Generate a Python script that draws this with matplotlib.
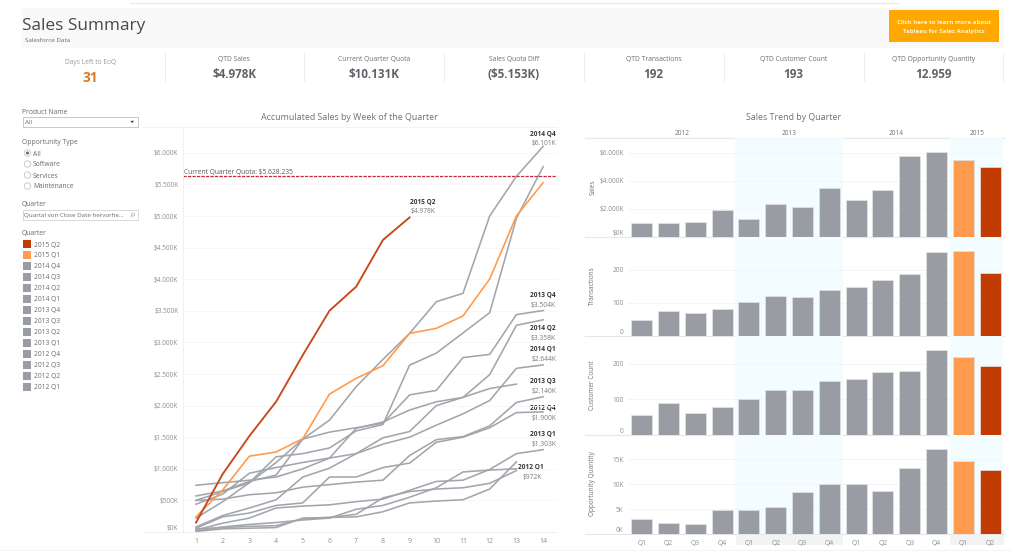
import matplotlib
matplotlib.use("Agg")
import matplotlib.pyplot as plt
from matplotlib.patches import Rectangle, Circle, Polygon

plt.rcParams['font.family'] = ['Open Sans', 'DejaVu Sans']

W, H = 1023, 551
GREY = '#999DA3'
LINE_GREY = '#A2A6AC'
ORANGE = '#FF9B4E'
DARK = '#C23B00'
TXT = '#666A70'
TICK = '#8C8F94'

weeks = list(range(1, 15))
q2012_1 = [10, 50, 60, 70, 220, 230, 280, 540, 640, 680, 700, 770, 972]
q2012_2 = [20, 80, 120, 150, 190, 220, 360, 420, 550, 700, 950, 980, 1000]
q2012_3 = [50, 70, 90, 100, 210, 230, 240, 320, 460, 490, 510, 680, 1110]
q2012_4 = [60, 240, 300, 420, 460, 870, 870, 1020, 1090, 1420, 1500, 1650, 1890, 1900]
q2013_1 = [30, 140, 220, 380, 410, 430, 480, 520, 660, 800, 820, 990, 1240, 1303]
q2013_2 = [740, 780, 820, 870, 1000, 1170, 1640, 1740, 1930, 2060, 2130, 2270, 2340]
q2013_3 = [500, 520, 590, 620, 710, 750, 790, 820, 1210, 1460, 1510, 1680, 2050, 2140]
q2013_4 = [570, 650, 800, 900, 1470, 1580, 1650, 1720, 2170, 2240, 2760, 2810, 3440, 3504]
q2014_1 = [440, 600, 930, 1020, 1100, 1170, 1240, 1390, 1500, 1690, 1870, 2080, 2590, 2644]
q2014_2 = [80, 260, 380, 510, 870, 1010, 1240, 1490, 1590, 2000, 2130, 2490, 3270, 3358]
q2014_3 = [500, 640, 780, 1190, 1240, 1330, 1600, 1700, 2640, 2830, 3150, 3470, 4963, 5780]
q2014_4 = [220, 480, 780, 1100, 1470, 1770, 2300, 2730, 3143, 3644, 3776, 5000, 5628, 6101]
q2015_1 = [240, 665, 1200, 1266, 1477, 2183, 2431, 2632, 3143, 3222, 3418, 4003, 5000, 5527]
q2015_2 = [150, 918, 1519, 2062, 2800, 3502, 3882, 4620, 4978]
quota = 5628.235

grey_lines = [q2012_1, q2012_2, q2012_3, q2012_4, q2013_1, q2013_2, q2013_3, q2013_4,
              q2014_1, q2014_2, q2014_3, q2014_4]

line_ticks = [0, 500, 1000, 1500, 2000, 2500, 3000, 3500, 4000, 4500, 5000, 5500, 6000]
line_tick_labels = ['$0K', '$500K', '$1.000K', '$1.500K', '$2.000K', '$2.500K', '$3.000K',
                    '$3.500K', '$4.000K', '$4.500K', '$5.000K', '$5.500K', '$6.000K']

quarters = ['Q1', 'Q2', 'Q3', 'Q4'] * 3 + ['Q1', 'Q2']
years = ['2012', '2013', '2014', '2015']
sales = [972, 1000, 1100, 1900, 1303, 2340, 2140, 3504, 2644, 3358, 5780, 6101, 5527, 4978]
transactions = [50, 76, 71, 82, 102, 122, 119, 140, 148, 169, 187, 254, 258, 192]
customers = [55, 88, 62, 79, 101, 125, 125, 151, 156, 176, 179, 238, 218, 193]
opportunity = [3.13, 2.27, 2.0, 4.8, 4.93, 5.47, 8.4, 10.13, 10.13, 8.73, 13.33, 17.07, 14.6, 12.959]

kpi_titles = ['QTD Sales', 'Current Quarter Quota', 'Sales Quota Diff', 'QTD Transactions',
              'QTD Customer Count', 'QTD Opportunity Quantity']
kpi_values = ['$4.978K', '$10.131K', '($5.153K)', '192', '193', '12.959']
legend_names = ['2015 Q2', '2015 Q1', '2014 Q4', '2014 Q3', '2014 Q2', '2014 Q1', '2013 Q4',
                '2013 Q3', '2013 Q2', '2013 Q1', '2012 Q4', '2012 Q3', '2012 Q2', '2012 Q1']
radio_names = ['All', 'Software', 'Services', 'Maintenance']

fig = plt.figure(figsize=(W / 100, H / 100), dpi=100, facecolor='white')


def ax_px(l, t, r, b, **kw):
    return fig.add_axes([l / W, 1 - b / H, (r - l) / W, (b - t) / H], **kw)


c = ax_px(0, 0, W, H, zorder=0)
c.set_xlim(0, W)
c.set_ylim(H, 0)
c.axis('off')


def T(x, y, s, size=5, color=TXT, ha='left', va='center_baseline', **kw):
    return c.text(x, y, s, fontsize=size, color=color, ha=ha, va=va, **kw)


def R(x0, y0, x1, y1, fc='none', ec='none', lw=0, z=1):
    c.add_patch(Rectangle((x0, y0), x1 - x0, y1 - y0, facecolor=fc, edgecolor=ec, linewidth=lw, zorder=z))


# header
c.plot([130, 898], [3, 3], color='#E8E8E8', lw=0.8)
R(22, 8, 1004, 48, fc='#F9F9F9')
R(889, 10, 999, 42, fc='#FFA800', z=2)
T(944, 22, 'Click here to learn more about', size=4.45, color='#FFF3D6', ha='center', fontweight='bold', zorder=3)
T(944, 31, 'Tableau for Sales Analytics', size=4.45, color='#FFF3D6', ha='center', fontweight='bold', zorder=3)
T(22, 24, 'Sales Summary', size=12.4, color='#4A4A4A')
T(25, 40.5, 'Salesforce Data', size=4.5, color='#666666')

# KPI row
T(91, 61, 'Days Left to EoQ', size=4.8, color='#9A9A9A', ha='center')
T(90, 77, '31', size=9.8, color='#DD7A26', ha='center', fontweight='bold')
dividers = [164.5, 304, 444, 584, 723.5, 863.5, 1003]
for x in dividers:
    c.plot([x, x], [53, 81], color='#EDEDED', lw=0.8)
for i, (k, v) in enumerate(zip(kpi_titles, kpi_values)):
    xc = (dividers[i] + dividers[i + 1]) / 2
    T(xc, 58.5, k, size=4.9, color='#6E6E6E', ha='center')
    T(xc, 73, v, size=8.4, color='#5F6368', ha='center', fontweight='bold')

# filters
T(22, 111, 'Product Name', size=4.9)
R(23, 117, 137.5, 127, fc='white', ec='#C8C8C8', lw=0.7)
T(25, 122, 'All', size=4.6)
c.add_patch(Polygon([[130.5, 120.8], [134, 120.8], [132.2, 123.2]], closed=True, fc='#444444', ec='none', zorder=2))
T(22, 142, 'Opportunity Type', size=4.9)
for i, n in enumerate(radio_names):
    y = 153 + i * 11
    c.add_patch(Circle((27.5, y), 3.2, fc='white', ec='#C4C4C4', lw=0.6, zorder=2))
    if i == 0:
        c.add_patch(Circle((27.5, y), 1.5, fc='#666666', ec='none', zorder=3))
    T(33, y, n, size=4.9)
T(22, 203.5, 'Quarter', size=4.9)
R(23, 210, 137.5, 220, fc='white', ec='#D8D8D8', lw=0.7)
T(24.5, 215, 'Quartal von Close Date hervorhe...', size=4.5)
c.add_patch(Circle((133, 214.5), 1.6, fc='none', ec='#999999', lw=0.4, zorder=2))
c.plot([131.8, 130.6], [215.8, 217.2], color='#999999', lw=0.4)
T(22, 232.5, 'Quarter', size=4.9)
for i, n in enumerate(legend_names):
    y = 244 + i * 10.98
    col = DARK if i == 0 else ORANGE if i == 1 else GREY
    R(23, y - 4, 31, y + 4, fc=col, z=2)
    T(33.5, y, n, size=4.8)

# line chart
LX0, LX1 = 183.3, 557
step = 26.7
a = ax_px(LX0, 127, LX1, 532, zorder=2)
a.patch.set_alpha(0)
a.set_xlim(1 + (LX0 - 196) / step, 1 + (LX1 - 196) / step)
a.set_ylim(0, 405 / 0.0632)
for s in ['top', 'right']:
    a.spines[s].set_visible(False)
for s in ['left', 'bottom']:
    a.spines[s].set_color('#F0F0F0')
    a.spines[s].set_linewidth(0.7)
c.plot([143, 183], [532, 532], color='#F0F0F0', lw=0.7)
c.plot([143, 557], [127, 127], color='#F3F3F3', lw=0.7)
a.set_yticks(line_ticks, line_tick_labels)
a.set_xticks(weeks, [str(w) for w in weeks])
a.tick_params(length=0, labelsize=4.7, labelcolor=TICK, pad=3.5)
a.tick_params(axis='x', pad=4.5, labelsize=5)
a.get_yticklabels()[0].set_va('bottom')
a.grid(axis='y', color='#F6F6F6', lw=0.6)
a.set_axisbelow(True)
for s in grey_lines:
    a.plot(weeks[:len(s)], s, color=LINE_GREY, lw=1.15, solid_joinstyle='round')
a.plot(weeks[:len(q2015_1)], q2015_1, color=ORANGE, lw=1.2)
a.plot(weeks[:len(q2015_2)], q2015_2, color='#C8481A', lw=1.35)
a.axhline(quota, color='#C5283D', lw=0.9, ls=(0, (2.6, 1)))
T(349, 116, 'Accumulated Sales by Week of the Quarter', size=6.4, color='#6E7277', ha='center')
T(184.5, 171.3, 'Current Quarter Quota: $5.628.235', size=4.8, color='#55585C', zorder=5)

labels = [('2015 Q2', '$4.978K', 435.7, 201), ('2014 Q4', '$6.101K', 556, 133), ('2013 Q4', '$3.504K', 556, 294),
          ('2014 Q2', '$3.358K', 556, 327.5), ('2014 Q1', '$2.644K', 556, 348.5), ('2013 Q3', '$2.140K', 556, 380),
          ('2012 Q4', '$1.900K', 556, 407.5), ('2013 Q1', '$1.303K', 556, 433.5)]
for n, v, x, y in labels:
    T(x, y, n, size=4.7, color='#333333', ha='right', fontweight='bold', zorder=5)
    T(x, y + 10, v, size=4.8, color='#77797D', ha='right', zorder=5)
T(544, 466, '2012 Q1', size=4.7, color='#333333', ha='right', fontweight='bold', zorder=5)
T(541.7, 476, '$972K', size=4.8, color='#77797D', ha='right', zorder=5)

# bar panels
BL, BR = 628.3, 1003.5
T(794, 116, 'Sales Trend by Quarter', size=6.4, color='#6E7277', ha='center')
panels = [
    (138, 237, sales, 99 / 0.014, [0, 2000, 4000, 6000], ['$0K', '$2.000K', '$4.000K', '$6.000K'], 'Sales', 187),
    (237, 336, transactions, 99 / 0.33, [0, 100, 200], ['0', '100', '200'], 'Transactions', 286),
    (336, 434.7, customers, 98.7 / 0.355, [0, 100, 200], ['0', '100', '200'], 'Customer Count', 385),
    (434.7, 534.3, opportunity, 99.6 / 5, [0, 5, 10, 15], ['0K', '5K', '10K', '15K'], 'Opportunity Quantity', 484),
]
xs = list(range(14))
cols = [GREY] * 12 + [ORANGE, DARK]
for idx, (t, b, vals, ymax, ticks, tl, name, yc) in enumerate(panels):
    p = ax_px(BL, t, BR, b, zorder=2)
    p.set_xlim(-0.5, 13.5)
    p.set_ylim(0, ymax)
    p.patch.set_alpha(0)
    p.axvspan(3.5, 7.5, color='#F3FCFE', lw=0, zorder=0)
    p.axvspan(11.5, 13.5, color='#F3FCFE', lw=0, zorder=0)
    p.grid(axis='y', color='#F4F4F4', lw=0.6, zorder=1)
    p.bar(xs, vals, width=0.78, color=cols, edgecolor='#E2E4E6', linewidth=0.5, zorder=2)
    for s in p.spines.values():
        s.set_visible(False)
    p.set_yticks(ticks, tl)
    p.tick_params(length=0, labelsize=4.7, labelcolor=TICK, pad=3.3)
    p.get_yticklabels()[0].set_va('bottom')
    if idx == 3:
        p.set_xticks(xs, quarters)
        p.tick_params(axis='x', pad=4, labelsize=4.9)
    else:
        p.set_xticks([])
    if idx == 0:
        for y, x in zip(years, [1.5, 5.5, 9.5, 12.5]):
            p.text(x, ymax * 1.044, y, fontsize=4.7, color='#707070', ha='center', va='center')
    c.plot([585, BR], [b, b], color='#E4E6E8', lw=0.8, zorder=1)
    T(592.7, yc, name, size=4.7, color='#707070', ha='center', va='center', rotation=90)
c.plot([585, BR], [138, 138], color='#E8E8E8', lw=1.0, zorder=1)
R(735.5, 534.5, 842.7, 545, fc='#F3F3F3')
R(950, 534.5, BR, 545, fc='#F3F3F3')
c.plot([0, 1010], [550, 550], color='#F4F4F4', lw=0.8)

fig.savefig('out.png', dpi=100)
